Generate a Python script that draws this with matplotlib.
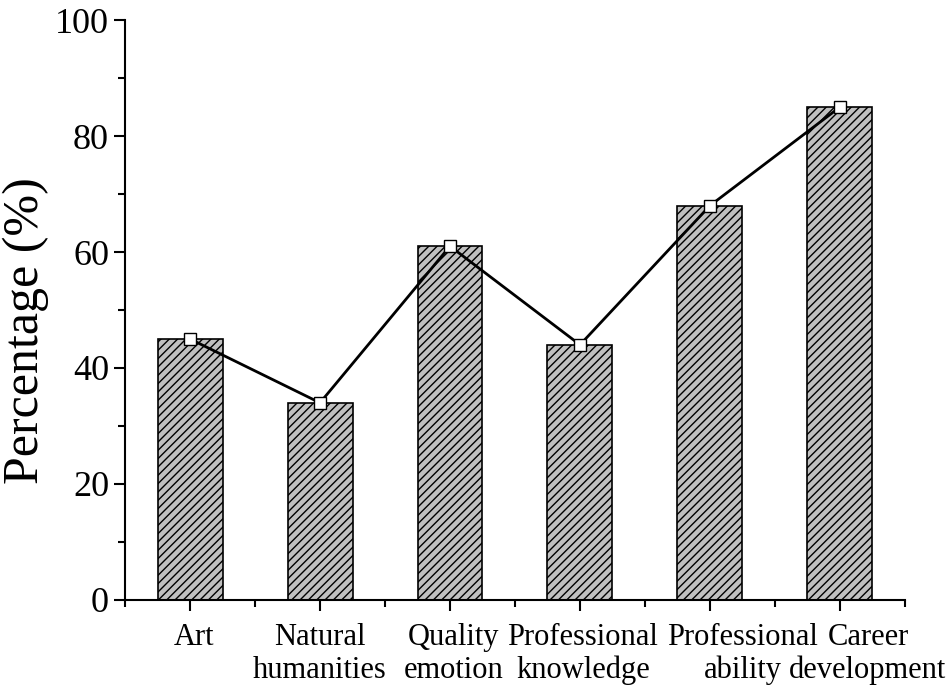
import numpy as np
import matplotlib.pyplot as plt
import matplotlib.transforms as mtransforms
from matplotlib.ticker import MultipleLocator, FixedLocator

plt.rcParams['font.family'] = ['Liberation Serif', 'DejaVu Serif']
plt.rcParams['hatch.linewidth'] = 1.0

categories = ['Art', 'Natural\nhumanities', 'Quality\nemotion',
              'Professional\nknowledge', 'Professional\nability', 'Career\ndevelopment']
values = [45, 34, 61, 44, 68, 85]
# horizontal nudges of the tick labels (pixels), as in the original layout
label_shift = [4, 0, 4, 3, 33, 28]

x = np.arange(len(categories))

fig = plt.figure(figsize=(9.5, 6.86), dpi=100)
ax = fig.add_axes([0.1316, 0.1254, 0.8210, 0.8454])

ax.bar(x, values, width=0.5, color='#c0c0c0', edgecolor='black',
       hatch='////', linewidth=1.2, zorder=2)
ax.plot(x, values, color='black', linewidth=2, marker='s', markersize=8,
        markerfacecolor='white', markeredgecolor='black', markeredgewidth=1,
        zorder=3)

ax.set_xlim(-0.5, len(categories) - 0.5)
ax.set_ylim(0, 100)
ax.set_xticks(x)
ax.set_xticklabels([])
# each line of a label is its own text, baselines 45 px and 78 px below the axis
for xi, name, dx in zip(x, categories, label_shift):
    for k, line in enumerate(name.split('\n')):
        trans = ax.get_xaxis_transform() + mtransforms.ScaledTranslation(
            dx / 100, -(45 + 33 * k) / 100, fig.dpi_scale_trans)
        ax.text(xi, 0, line, transform=trans, ha='center', va='baseline',
                fontsize=22)
ax.xaxis.set_minor_locator(FixedLocator(np.arange(-0.5, len(categories), 1.0)))
ax.yaxis.set_major_locator(MultipleLocator(20))
ax.yaxis.set_minor_locator(MultipleLocator(10))
ax.tick_params(axis='y', labelsize=26)
ax.tick_params(which='major', direction='out', length=8, width=1.5)
ax.tick_params(which='minor', direction='out', length=5, width=1.5)

fig.text(26 / 950, 1 - 331 / 686, 'Percentage (%)', fontsize=36,
         rotation=90, ha='center', va='center')

for side in ['top', 'right']:
    ax.spines[side].set_visible(False)
for side in ['left', 'bottom']:
    ax.spines[side].set_linewidth(1.5)

fig.savefig('out.png', dpi=100)
